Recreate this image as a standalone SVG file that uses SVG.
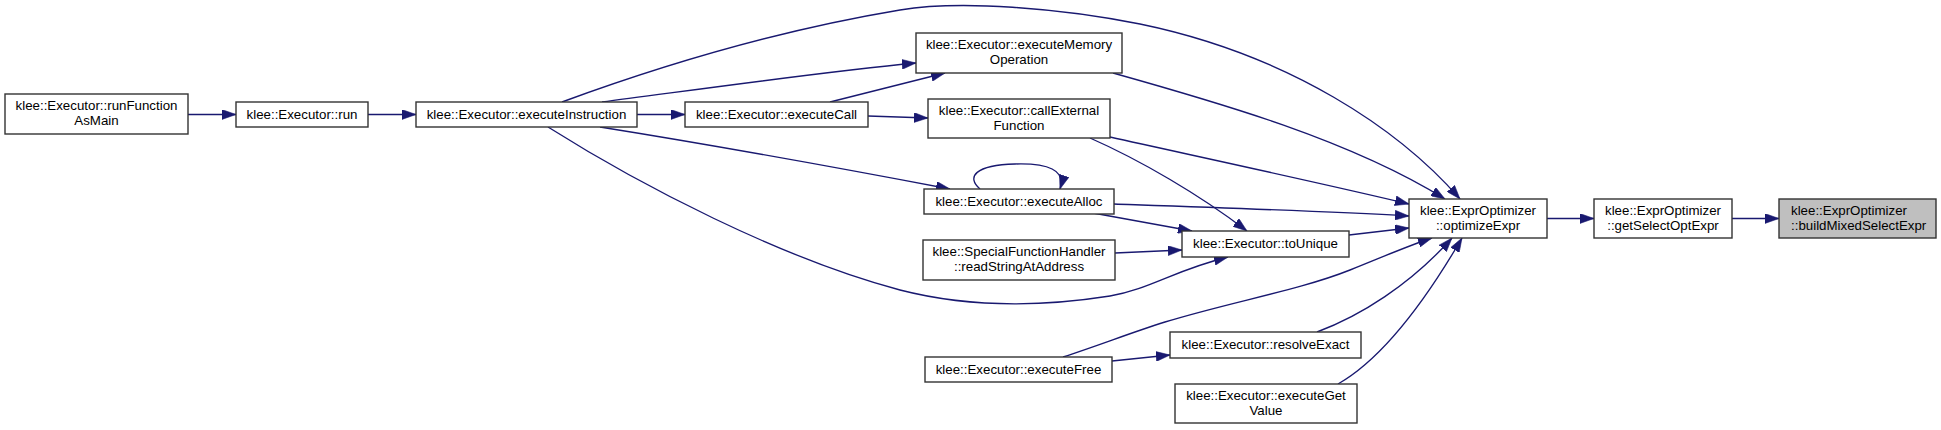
<svg xmlns="http://www.w3.org/2000/svg" width="1941" height="430" viewBox="0 0 1941 430">
<style>
.node rect{fill:#ffffff;stroke:#333333;stroke-width:1.4}
.node text{font-family:"Liberation Sans",Arial,sans-serif;font-size:13.3px;fill:#000000;text-anchor:middle}
#n15 rect{fill:#bfbfbf}
#n15 text{text-anchor:start}
#edges path{fill:none;stroke:#191970;stroke-width:1.35;marker-end:url(#arr)}
</style>
<defs>
<marker id="arr" markerUnits="userSpaceOnUse" markerWidth="14" markerHeight="10" viewBox="0 0 13.3 9.4" refX="13.3" refY="4.7" orient="auto">
<path d="M0,0 L13.3,4.7 L0,9.4 z" fill="#191970" stroke="#191970" stroke-width="0.5"/>
</marker>
</defs>
<rect width="1941" height="430" fill="#ffffff"/>
<g id="edges">
<path d="M188,114.5 L236,114.5"/>
<path d="M368,114.5 L416,114.5"/>
<path d="M637,114.5 L685,114.5"/>
<path d="M602,102 C680,92 820,72 916,63"/>
<path d="M830,102 C870,92 905,83 945,73"/>
<path d="M868,116 L928,118"/>
<path d="M562,102 C660,66 780,30 900,10 C960,0 1060,8 1140,24 C1290,55 1400,130 1460,199"/>
<path d="M1113,73 C1220,103 1350,140 1445,199"/>
<path d="M1110,137 C1200,157 1330,185 1409,204"/>
<path d="M1090,138 C1140,160 1200,195 1247,231"/>
<path d="M980,189 C966,177 975,165 1015,164 C1048,163 1066,170 1060,189"/>
<path d="M600,127 C700,143 850,170 950,189"/>
<path d="M1114,204 C1200,207 1320,211 1409,216"/>
<path d="M1093,213 L1192,231"/>
<path d="M1115,253 L1182,250"/>
<path d="M548,127 C640,185 780,258 900,290 C970,308 1040,307 1110,296 C1150,289 1175,270 1228,257"/>
<path d="M1349,235 L1409,228"/>
<path d="M1063,357 C1100,345 1130,333 1165,322 C1230,302 1300,290 1350,270 C1385,256 1410,245 1432,238"/>
<path d="M1112,361 L1170,355"/>
<path d="M1317,332 C1360,316 1410,285 1452,238"/>
<path d="M1338,384 C1380,360 1420,310 1462,238"/>
<path d="M1547,218.5 L1594,218.5"/>
<path d="M1732,218.5 L1779,218.5"/>
</g>
<g id="n1" class="node"><rect x="5" y="94" width="183" height="40"/><text x="96.5" y="110">klee::Executor::runFunction</text><text x="96.5" y="124.5">AsMain</text></g>
<g id="n2" class="node"><rect x="236" y="102" width="132" height="25"/><text x="302" y="118.5">klee::Executor::run</text></g>
<g id="n3" class="node"><rect x="416" y="102" width="221" height="25"/><text x="526.5" y="118.5">klee::Executor::executeInstruction</text></g>
<g id="n4" class="node"><rect x="685" y="102" width="183" height="25"/><text x="776.5" y="118.5">klee::Executor::executeCall</text></g>
<g id="n5" class="node"><rect x="916" y="33" width="206" height="40"/><text x="1019" y="49">klee::Executor::executeMemory</text><text x="1019" y="63.5">Operation</text></g>
<g id="n6" class="node"><rect x="928" y="99" width="182" height="39"/><text x="1019" y="115">klee::Executor::callExternal</text><text x="1019" y="129.5">Function</text></g>
<g id="n7" class="node"><rect x="924" y="189" width="190" height="25"/><text x="1019" y="205.5">klee::Executor::executeAlloc</text></g>
<g id="n8" class="node"><rect x="923" y="240" width="192" height="40"/><text x="1019" y="256">klee::SpecialFunctionHandler</text><text x="1019" y="270.5">::readStringAtAddress</text></g>
<g id="n9" class="node"><rect x="925" y="357" width="187" height="25"/><text x="1018.5" y="373.5">klee::Executor::executeFree</text></g>
<g id="n10" class="node"><rect x="1182" y="231" width="167" height="26"/><text x="1265.5" y="247.5">klee::Executor::toUnique</text></g>
<g id="n11" class="node"><rect x="1170" y="332" width="191" height="26"/><text x="1265.5" y="348.5">klee::Executor::resolveExact</text></g>
<g id="n12" class="node"><rect x="1175" y="384" width="182" height="39"/><text x="1266" y="400">klee::Executor::executeGet</text><text x="1266" y="414.5">Value</text></g>
<g id="n13" class="node"><rect x="1409" y="199" width="138" height="39"/><text x="1478" y="215">klee::ExprOptimizer</text><text x="1478" y="229.5">::optimizeExpr</text></g>
<g id="n14" class="node"><rect x="1594" y="199" width="138" height="39"/><text x="1663" y="215">klee::ExprOptimizer</text><text x="1663" y="229.5">::getSelectOptExpr</text></g>
<g id="n15" class="node"><rect x="1779" y="199" width="157" height="39"/><text x="1791" y="215">klee::ExprOptimizer</text><text x="1791" y="229.5">::buildMixedSelectExpr</text></g>
</svg>
